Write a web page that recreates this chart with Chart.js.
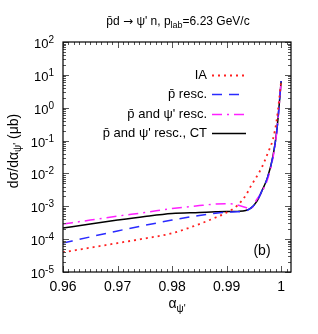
<!DOCTYPE html>
<html>
<head>
<meta charset="utf-8">
<script src="https://cdn.jsdelivr.net/npm/chart.js@4.4.1/dist/chart.umd.min.js"></script>
<style>
html, body { margin: 0; padding: 0; background: #fff; }
#wrap { width: 318px; height: 334px; }
</style>
</head>
<body>
<div id="wrap"><canvas id="myChart" width="318" height="334"></canvas></div>
<script>
// valores (alpha_psi' e dsigma/dalpha em microbarn)
const alpha      = [0.96, 0.965, 0.97, 0.975, 0.98, 0.985, 0.988, 0.99, 0.992, 0.9935, 0.9945, 0.9955, 0.9965, 0.9975, 0.9985, 0.9992, 1.0];
const sigmaIA    = [3.98e-5, 5.50e-5, 7.59e-5, 1.05e-4, 1.51e-4, 2.88e-4, 4.57e-4, 6.46e-4, 1.07e-3, 2.14e-3, 4.27e-3, 7.94e-3, 1.58e-2, 3.98e-2, 0.112, 0.447, 6.5];
const sigmaPbar  = [7.59e-5, 1.17e-4, 1.78e-4, 2.63e-4, 3.80e-4, 5.25e-4, 6.17e-4, 6.61e-4, 6.76e-4, 7.24e-4, 8.91e-4, 1.38e-3, 3.02e-3, 7.59e-3, 3.39e-2, 0.20, 6.5];
const sigmaBoth  = [2.88e-4, 3.80e-4, 5.01e-4, 6.46e-4, 8.51e-4, 1.05e-3, 1.17e-3, 1.20e-3, 1.10e-3, 9.12e-4, 8.71e-4, 1.58e-3, 2.82e-3, 6.61e-3, 3.02e-2, 0.19, 6.5];
const sigmaCT    = [2.19e-4, 2.88e-4, 3.80e-4, 4.90e-4, 6.03e-4, 6.46e-4, 6.76e-4, 6.92e-4, 7.00e-4, 7.41e-4, 8.91e-4, 1.38e-3, 3.02e-3, 7.59e-3, 3.39e-2, 0.20, 6.5];
const seriesNames = ['IA', 'p\u0304 resc.', "p\u0304 and \u03c8' resc.", "p\u0304 and \u03c8' resc., CT"];
const xTicks = [0.96, 0.97, 0.98, 0.99, 1];
const yTickExps = [-5, -4, -3, -2, -1, 0, 1, 2];

const FONT = "'Liberation Sans', Arial, sans-serif";

function pts(ys) {
    return alpha.map((a, i) => ({ x: a, y: ys[i] }));
}

// desenha texto com partes sub/sobrescritas
function richText(ctx, parts, x, y, align) {
    let w = 0;
    parts.forEach(p => { ctx.font = p.size + 'px ' + (p.f || FONT); p.w = ctx.measureText(p.t).width; w += p.w; });
    let cx = align === 'right' ? x - w : align === 'center' ? x - w / 2 : x;
    ctx.textAlign = 'left';
    ctx.textBaseline = 'alphabetic';
    parts.forEach(p => {
        ctx.font = p.size + 'px ' + (p.f || FONT);
        ctx.fillText(p.t, cx, y + (p.dy || 0));
        cx += p.w;
    });
}

const decor = {
    id: 'decor',
    afterDraw(chart) {
        const ctx = chart.ctx;
        const a = chart.chartArea;
        const xs = chart.scales.x, ys = chart.scales.y;
        ctx.save();
        ctx.fillStyle = '#000';

        // marcas dos eixos, para dentro
        ctx.strokeStyle = '#555';
        ctx.lineWidth = 1;
        ctx.beginPath();
        for (let k = 0; k <= 41; k++) {
            const v = 0.96 + k * 0.001;
            const px = Math.round(xs.getPixelForValue(v)) + 0.5;
            if (px > a.right) break;
            const len = k % 10 === 0 ? 6 : 3;
            ctx.moveTo(px, a.bottom); ctx.lineTo(px, a.bottom - len);
            ctx.moveTo(px, a.top); ctx.lineTo(px, a.top + len);
        }
        for (let e = -5; e <= 2; e++) {
            for (let m = 1; m <= 9; m++) {
                const v = m * Math.pow(10, e);
                if (v > 100) break;
                const py = Math.round(ys.getPixelForValue(v)) + 0.5;
                const len = m === 1 ? 6 : 3;
                ctx.moveTo(a.left, py); ctx.lineTo(a.left + len, py);
                ctx.moveTo(a.right, py); ctx.lineTo(a.right - len, py);
            }
        }
        ctx.stroke();

        // moldura
        ctx.strokeStyle = '#000';
        ctx.lineWidth = 1.2;
        ctx.strokeRect(a.left, a.top, a.right - a.left, a.bottom - a.top);

        // rótulos do eixo x
        ctx.font = '14px ' + FONT;
        ctx.textAlign = 'center';
        ctx.textBaseline = 'alphabetic';
        xTicks.forEach(v => {
            ctx.fillText(String(v), xs.getPixelForValue(v), a.bottom + 19);
        });

        // rótulos do eixo y (10^n)
        yTickExps.forEach(e => {
            const py = ys.getPixelForValue(Math.pow(10, e));
            richText(ctx, [{ t: '10', size: 13 }, { t: String(e), size: 10, dy: -5 }], a.left - 9, py + 6, 'right');
        });

        // título
        richText(ctx, [
            { t: "p\u0304d ", size: 12 },
            { t: '\u2192', size: 12, f: "'DejaVu Sans', sans-serif" },
            { t: " \u03c8' n, p", size: 12 },
            { t: 'lab', size: 9, dy: 3 },
            { t: '=6.23 GeV/c', size: 12 }
        ], 178, 25, 'center');

        // título eixo x
        richText(ctx, [{ t: '\u03b1', size: 14 }, { t: "\u03c8'", size: 10, dy: 4 }], 177, 308, 'center');

        // título eixo y
        ctx.save();
        ctx.translate(18, 151);
        ctx.rotate(-Math.PI / 2);
        richText(ctx, [
            { t: 'd\u03c3/d\u03b1', size: 14 },
            { t: "\u03c8'", size: 10, dy: 3 },
            { t: ' (\u03bcb)', size: 14 }
        ], 0, 0, 'center');
        ctx.restore();

        // (b)
        ctx.font = '14px ' + FONT;
        ctx.textAlign = 'center';
        ctx.fillText('(b)', 262, 255);

        // legenda
        const rows = [75, 94, 114, 133];
        chart.data.datasets.forEach((ds, i) => {
            const y = rows[i];
            ctx.fillStyle = '#000';
            ctx.font = '13px ' + FONT;
            ctx.textAlign = 'right';
            ctx.textBaseline = 'middle';
            ctx.fillText(ds.label, 207, y);
            ctx.strokeStyle = ds.borderColor;
            ctx.lineWidth = ds.borderWidth;
            ctx.setLineDash(ds.borderDash || []);
            ctx.beginPath();
            ctx.moveTo(212, y + 0.5);
            ctx.lineTo(246, y + 0.5);
            ctx.stroke();
            ctx.setLineDash([]);
        });
        ctx.restore();
    }
};

const ctx = document.getElementById('myChart').getContext('2d');
const myChart = new Chart(ctx, {
    type: 'line',
    data: {
        datasets: [{
            label: seriesNames[0],
            data: pts(sigmaIA),
            borderColor: '#ff2020',
            borderWidth: 1.8,
            borderDash: [2, 4]
        }, {
            label: seriesNames[1],
            data: pts(sigmaPbar),
            borderColor: '#2a2aff',
            borderWidth: 1.5,
            borderDash: [10, 7]
        }, {
            label: seriesNames[2],
            data: pts(sigmaBoth),
            borderColor: '#ff20ff',
            borderWidth: 1.5,
            borderDash: [10, 5, 2, 5]
        }, {
            label: seriesNames[3],
            data: pts(sigmaCT),
            borderColor: '#000000',
            borderWidth: 1.5,
            borderDash: []
        }]
    },
    options: {
        responsive: false,
        animation: false,
        events: [],
        layout: { padding: { top: 42, right: 27, left: 0, bottom: 0 } },
        elements: {
            point: { radius: 0 },
            line: { cubicInterpolationMode: 'monotone', fill: false }
        },
        plugins: { legend: { display: false }, tooltip: { enabled: false } },
        scales: {
            x: {
                type: 'linear',
                min: 0.96,
                max: 1.0018,
                grid: { display: false },
                border: { display: false },
                ticks: { display: false },
                afterFit(s) { s.height = 62; }
            },
            y: {
                type: 'logarithmic',
                min: 1e-5,
                max: 100,
                grid: { display: false },
                border: { display: false },
                ticks: { display: false },
                afterFit(s) { s.width = 63; }
            }
        }
    },
    plugins: [decor]
});
</script>
</body>
</html>
